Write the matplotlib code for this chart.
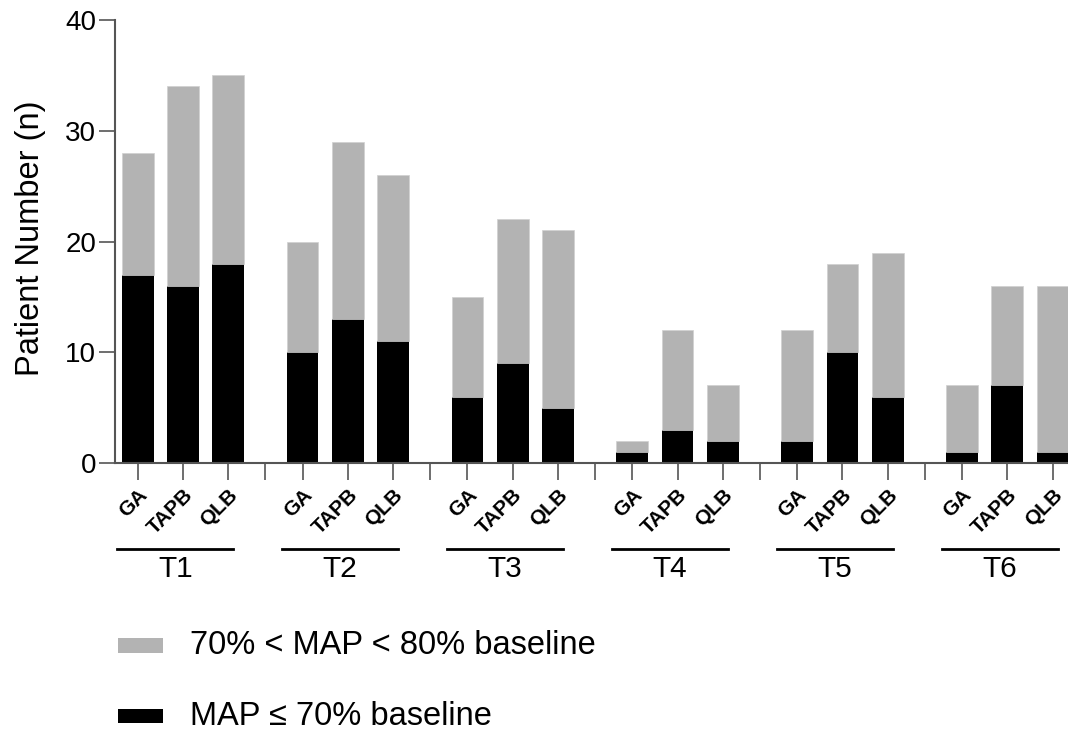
import numpy as np
import matplotlib.pyplot as plt
from matplotlib.patches import Rectangle

plt.rcParams["font.family"] = ["Liberation Sans", "DejaVu Sans"]

# %%
timepoints = ["T1", "T2", "T3", "T4", "T5", "T6"]
groups = ["GA", "TAPB", "QLB"]
# MAP <= 70% baseline (black part)
severe = [
    [17, 16, 18],
    [10, 13, 11],
    [6, 9, 5],
    [1, 3, 2],
    [2, 10, 6],
    [1, 7, 1],
]
# total patients with MAP < 80% baseline (top of gray part)
total = [
    [28, 34, 35],
    [20, 29, 26],
    [15, 22, 21],
    [2, 12, 7],
    [12, 18, 19],
    [7, 16, 16],
]
legend_labels = ["70% < MAP < 80% baseline", "MAP ≤ 70% baseline"]

GRAY = "#b3b3b3"
AXCOL = "#555555"
spacing = 3.64

# %%
fig = plt.figure(figsize=(10.68, 7.31), dpi=100)
ax = fig.add_axes([0.1077, 0.3666, 0.8923, 0.606])

severe = np.array(severe)
total = np.array(total)
mild = total - severe

centers = []
for i, tp in enumerate(timepoints):
    x = i * spacing + np.arange(3)
    centers.extend(x)
    ax.bar(x, severe[i], width=0.7, color="black", zorder=2)
    ax.bar(x, mild[i], bottom=severe[i], width=0.7, color=GRAY,
           edgecolor="#d0d0d0", linewidth=0.5, zorder=2)

ax.set_xlim(-0.5, 20.54)
ax.set_ylim(0, 40)
ax.set_yticks([0, 10, 20, 30, 40])
ax.tick_params(axis="y", labelsize=20, length=11.5, width=1.2, color=AXCOL, pad=2)

# ticks at bar centers plus the gaps between groups
gaps = [i * spacing + 2 + (spacing - 2) / 2 for i in range(len(timepoints) - 1)]
ax.set_xticks(list(centers) + gaps)
ax.set_xticklabels(groups * len(timepoints) + [""] * len(gaps))
ax.tick_params(axis="x", length=12, width=1.2, color=AXCOL, pad=4)
for lab in ax.get_xticklabels():
    lab.set_rotation(45)
    lab.set_ha("right")
    lab.set_rotation_mode("anchor")
    lab.set_fontsize(15)
    lab.set_fontweight("bold")

for side in ["top", "right"]:
    ax.spines[side].set_visible(False)
for side in ["left", "bottom"]:
    ax.spines[side].set_color(AXCOL)
    ax.spines[side].set_linewidth(1.5)

ax.set_ylabel("Patient Number (n)", fontsize=23.5, va="center")
ax.yaxis.set_label_coords(-0.089, 0.507)

# group lines with T labels underneath
trans = ax.get_xaxis_transform()
for i, tp in enumerate(timepoints):
    x0 = i * spacing - 0.45
    x1 = i * spacing + 2 + 0.11
    ax.plot([x0, x1], [-0.193, -0.193], color="black", lw=2,
            transform=trans, clip_on=False)
    ax.text((x0 + x1) / 2, -0.24, tp, transform=trans, ha="center",
            va="center", fontsize=21.5)

# legend, drawn by hand to match the layout
for (y0, h, col), lab, ty in zip(
    [(0.1067, 0.0205, GRAY), (0.0109, 0.0192, "black")],
    legend_labels,
    [0.117, 0.0205],
):
    fig.patches.append(Rectangle((0.1105, y0), 0.0421, h, facecolor=col,
                                 transform=fig.transFigure, figure=fig))
    fig.text(0.178, ty, lab, ha="left", va="center", fontsize=23.5)

plt.savefig("out.png", dpi=100)
